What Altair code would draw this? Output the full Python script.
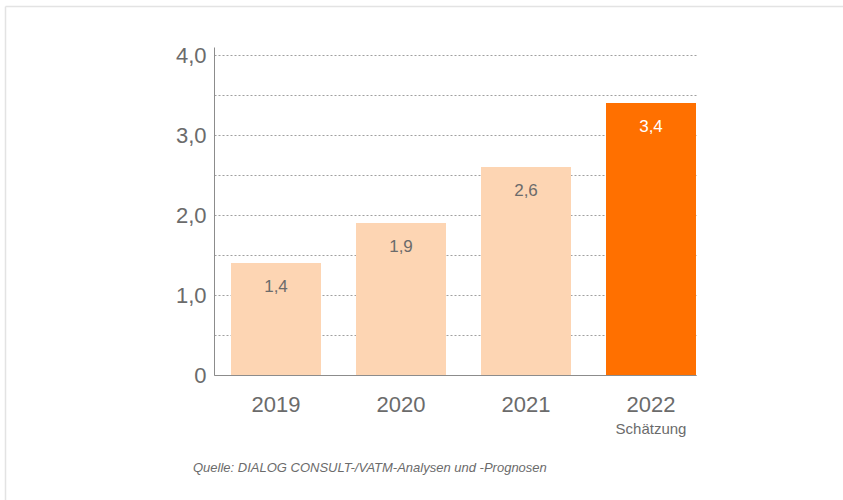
import altair as alt
import pandas as pd

years = ["2019", "2020", "2021", "2022"]
values = [1.4, 1.9, 2.6, 3.4]
kinds = ["ist", "ist", "ist", "schaetzung"]
y_ticks = [0, 0.5, 1.0, 1.5, 2.0, 2.5, 3.0, 3.5, 4.0]
source_text = "Quelle: DIALOG CONSULT-/VATM-Analysen und -Prognosen"
note_text = "Schätzung"

df = pd.DataFrame({"year": years, "value": values, "kind": kinds})
df["label"] = [f"{v:.1f}".replace(".", ",") for v in values]

FONT = "Liberation Sans"
GRAY = "#6b6b6b"

x_enc = alt.X(
    "year:N",
    sort=years,
    scale=alt.Scale(paddingInner=0.28, paddingOuter=0.068, align=1),
    axis=alt.Axis(
        title=None, ticks=False, labelAngle=0, labelFontSize=22, labelColor=GRAY,
        labelPadding=19, domainColor="#8c8c8c", labelFont=FONT,
    ),
)

y_enc = alt.Y(
    "value:Q",
    scale=alt.Scale(domain=[0, 4.1], nice=False),
    axis=alt.Axis(
        title=None, values=y_ticks, ticks=False, labelFontSize=22, labelColor=GRAY,
        labelPadding=8, labelFont=FONT, domainColor="#8c8c8c",
        gridColor="#a0a0a0", gridDash=[2, 2], gridWidth=1,
        labelExpr="datum.value == 0 ? '0' : (datum.value % 1 == 0 ? replace(format(datum.value, '.1f'), '.', ',') : '')",
    ),
)

base = alt.Chart(df)

bars = base.mark_bar().encode(
    x=x_enc,
    y=y_enc,
    color=alt.Color(
        "kind:N",
        scale=alt.Scale(domain=["ist", "schaetzung"], range=["#FDD5B3", "#FF7000"]),
        legend=None,
    ),
)

labels = base.mark_text(fontSize=17, font=FONT, dy=24, baseline="middle").encode(
    x=alt.X("year:N", sort=years),
    y="value:Q",
    text="label:N",
    color=alt.Color(
        "kind:N",
        scale=alt.Scale(domain=["ist", "schaetzung"], range=[GRAY, "#ffffff"]),
        legend=None,
    ),
)

note = alt.Chart(pd.DataFrame({"year": ["2022"], "t": [note_text]})).mark_text(
    fontSize=15, font=FONT, color=GRAY, baseline="middle"
).encode(
    x=alt.X("year:N", sort=years),
    y=alt.value(429 - 47),
    text="t:N",
)

source = alt.Chart(pd.DataFrame({"t": [source_text]})).mark_text(
    fontSize=13, font=FONT, fontStyle="italic", color=GRAY, align="left", baseline="middle"
).encode(
    x=alt.value(193 - 214),
    y=alt.value(468 - 47),
    text="t:N",
)

border_top = alt.Chart(pd.DataFrame({"a": [0]})).mark_rule(color="#e3e3e3", strokeWidth=1.5).encode(
    x=alt.value(5.5 - 214), x2=alt.value(900), y=alt.value(6.5 - 47)
)
border_left = alt.Chart(pd.DataFrame({"a": [0]})).mark_rule(color="#e3e3e3", strokeWidth=1.5).encode(
    x=alt.value(5.5 - 214), y=alt.value(6.5 - 47), y2=alt.value(600)
)

chart = alt.layer(bars, labels, note, source, border_top, border_left).properties(
    width=482,
    height=328,
    autosize=alt.AutoSizeParams(type="none"),
    padding={"left": 214, "top": 47, "right": 147, "bottom": 125},
    background="white",
).configure_view(stroke=None).resolve_scale(color="independent")

chart.save("out.html", embed_options={"renderer": "svg", "actions": False})
